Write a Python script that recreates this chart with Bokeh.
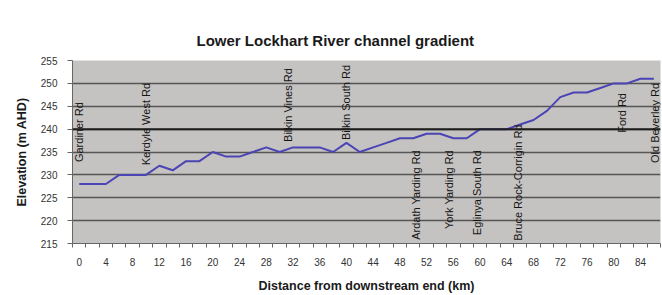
from math import pi
from bokeh.plotting import figure
from bokeh.models import FixedTicker, Range1d, ColumnDataSource, Span
from bokeh.embed import file_html
from bokeh.resources import INLINE
from bokeh.core.properties import value

# ---- data -------------------------------------------------------------
distance_km = list(range(0, 88, 2))
elevation_m = [228, 228, 228, 230, 230, 230, 232, 231, 233, 233,
               235, 234, 234, 235, 236, 235, 236, 236, 236, 235,
               237, 235, 236, 237, 238, 238, 239, 239, 238, 238,
               240, 240, 240, 241, 242, 244, 247, 248, 248, 249,
               250, 250, 251, 251]

x_tick_labels = list(range(0, 85, 4))
x_tick_marks = list(range(-1, 88, 2))
y_ticks = list(range(215, 256, 5))

# road crossings labelled above the profile (anchor = start of text)
roads_above = ["Gardiner Rd", "Kerdyle West Rd", "Bilkin Vines Rd",
               "Bilkin South Rd", "Ford Rd", "Old Beverley Rd"]
roads_above_km = [0, 10, 31.3, 40, 81.3, 86.2]
roads_above_elev = [232.8, 232.1, 237.2, 237.6, 239.2, 232.6]

# road crossings labelled below the profile (anchor = end of text)
roads_below = ["Ardath Yarding Rd", "York Yarding Rd", "Eglinya South Rd",
               "Bruce Rock-Corrigin Rd"]
roads_below_km = [50.4, 55.3, 59.5, 65.7]
roads_below_elev = [235.4, 235.4, 235.4, 241.0]

FONT = "Liberation Sans"

p = figure(width=662, height=295,
           x_range=Range1d(-1, 87), y_range=Range1d(215, 255),
           output_backend="svg", toolbar_location=None,
           min_border_left=72, min_border_right=2,
           min_border_top=60, min_border_bottom=51,
           title="Lower Lockhart River channel gradient")

p.title.text_font = FONT
p.title.text_font_size = "15px"
p.title.text_font_style = "bold"
p.title.text_color = "#1a1a1a"
p.title.align = "left"
p.title.offset = 124
p.title.standoff = 23

p.background_fill_color = "#c5c3c1"
p.border_fill_color = "white"
p.outline_line_color = None

# grid
p.xgrid.grid_line_color = None
p.ygrid.ticker = FixedTicker(ticks=y_ticks[1:-1])
p.ygrid.grid_line_color = "#555555"
p.ygrid.grid_line_width = 1.5
p.add_layout(Span(location=240, dimension="width", line_color="#1e1e1e",
                  line_width=2))

# axes
p.xaxis.ticker = FixedTicker(ticks=x_tick_labels, minor_ticks=x_tick_marks)
p.xaxis.major_tick_out = 0
p.xaxis.major_tick_in = 0
p.xaxis.minor_tick_out = 4
p.xaxis.minor_tick_in = 0
p.xaxis.major_label_standoff = 10
p.xaxis.axis_label = "Distance from downstream end (km)"
p.xaxis.axis_label_standoff = 10

p.yaxis.ticker = FixedTicker(ticks=y_ticks)
p.yaxis.major_tick_out = 5
p.yaxis.major_tick_in = 0
p.yaxis.minor_tick_out = 0
p.yaxis.minor_tick_in = 0
p.yaxis.major_label_standoff = 10
p.yaxis.axis_label = "Elevation (m AHD)"
p.yaxis.axis_label_standoff = 9

for ax in (p.xaxis[0], p.yaxis[0]):
    ax.axis_line_color = "#666666"
    ax.major_tick_line_color = "#666666"
    ax.minor_tick_line_color = "#666666"
    ax.major_label_text_font = FONT
    ax.major_label_text_font_size = "10px"
    ax.major_label_text_color = "#333333"
    ax.axis_label_text_font = FONT
    ax.axis_label_text_font_size = "12.5px"
    ax.axis_label_text_font_style = "bold"
    ax.axis_label_text_color = "#1a1a1a"

# profile
src = ColumnDataSource(dict(x=distance_km, y=elevation_m))
p.line("x", "y", source=src, line_color="#4b44b4", line_width=2)

# road labels
src_a = ColumnDataSource(dict(x=roads_above_km, y=roads_above_elev, t=roads_above))
p.text("x", "y", text="t", source=src_a, angle=pi / 2,
       text_align="left", text_baseline="middle",
       text_font=value(FONT), text_font_size="11px", text_color="#151515")

src_b = ColumnDataSource(dict(x=roads_below_km, y=roads_below_elev, t=roads_below))
p.text("x", "y", text="t", source=src_b, angle=pi / 2,
       text_align="right", text_baseline="middle",
       text_font=value(FONT), text_font_size="11px", text_color="#151515")

open("out.html", "w").write(file_html(p, INLINE))
